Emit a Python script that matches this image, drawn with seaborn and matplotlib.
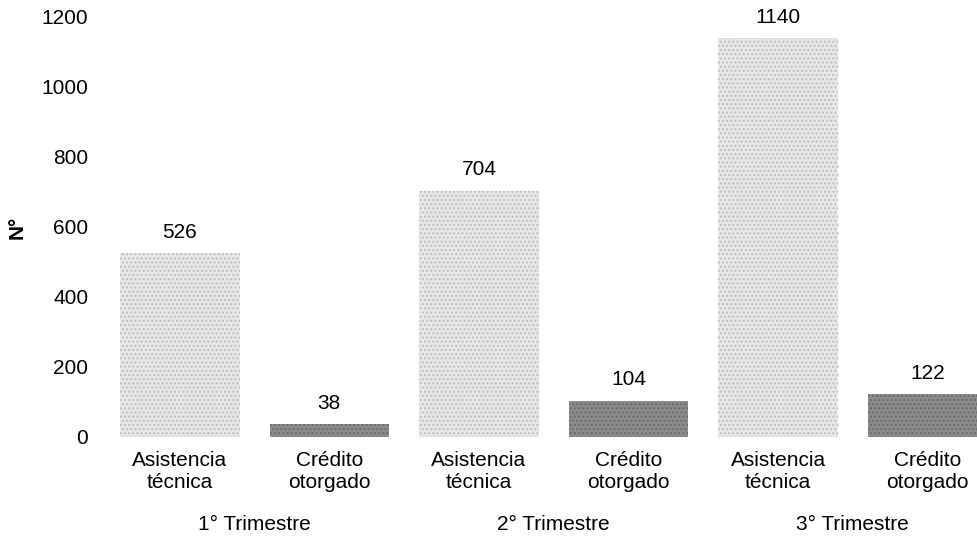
import pandas as pd
import numpy as np
import matplotlib
matplotlib.use("Agg")
import matplotlib.pyplot as plt
import seaborn as sns

# data
trimestres = ["1° Trimestre", "2° Trimestre", "3° Trimestre"]
tipos = ["Asistencia\ntécnica", "Crédito\notorgado"]
asistencia = [526, 704, 1140]
credito = [38, 104, 122]

rows = []
for i, t in enumerate(trimestres):
    rows.append({"pos": f"{i}a", "tipo": tipos[0], "n": asistencia[i], "trim": t})
    rows.append({"pos": f"{i}c", "tipo": tipos[1], "n": credito[i], "trim": t})
df = pd.DataFrame(rows)

sns.set_theme(style="white", rc={"text.color": "black", "axes.labelcolor": "black",
                                 "xtick.color": "black", "ytick.color": "black"})
plt.rcParams["font.family"] = ["Liberation Sans", "DejaVu Sans"]

fig = plt.figure(figsize=(9.77, 5.42), dpi=100)
ax = fig.add_axes([105 / 977, 105 / 542, 872 / 977, 420 / 542])

palette = {tipos[0]: "#e8e8e8", tipos[1]: "#8c8c8c"}
sns.barplot(data=df, x="pos", y="n", hue="tipo", palette=palette, dodge=False,
            width=0.8, ax=ax, legend=False, edgecolor="none")

# stippled look like the scanned original
for bar, tipo in zip(ax.patches, [tipos[0]] * 3 + [tipos[1]] * 3):
    bar.set_hatch("....")
    bar.set_edgecolor("#bdbdbd" if tipo == tipos[0] else "#6a6a6a")
    bar.set_linewidth(0)

for c in ax.containers:
    ax.bar_label(c, padding=8, fontsize=15)

ax.set_xlim(-0.5, 5.33)
ax.set_ylim(0, 1200)
ax.set_yticks(range(0, 1201, 200))
ax.set_xticks(range(6))
ax.set_xticklabels(tipos * 3, fontsize=15, linespacing=1.2)
ax.tick_params(axis="x", pad=10, length=0)
ax.tick_params(axis="y", pad=12, length=0, labelsize=15)
ax.set_xlabel("")
ax.set_ylabel("N°", fontsize=15, fontweight="bold")
ax.yaxis.set_label_coords(-78 / 872, 0.5)
sns.despine(ax=ax, left=True, bottom=True)

for i, t in enumerate(trimestres):
    ax.text(2 * i + 0.5, -88 / 420 * 1200, t, ha="center", va="center", fontsize=15)

fig.savefig("out.png", dpi=100)
